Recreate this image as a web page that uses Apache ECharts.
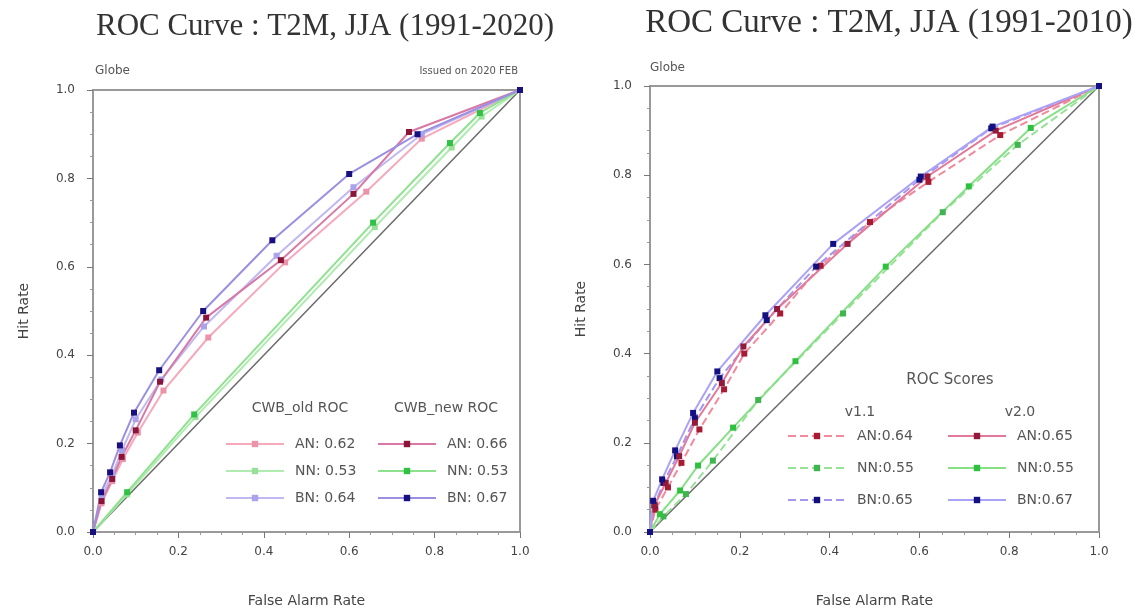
<!DOCTYPE html>
<html>
<head>
<meta charset="utf-8">
<title>ROC Curve : T2M, JJA</title>
<script src="https://cdn.jsdelivr.net/npm/echarts@6/dist/echarts.min.js"></script>
<style>
  html, body { margin: 0; padding: 0; background: #fff; }
  #chart { width: 1140px; height: 613px; }
</style>
</head>
<body>
<div id="chart"></div>
<script>
// axis ticks
var tickValues = [0, 0.2, 0.4, 0.6, 0.8, 1.0];

// left panel: CWB_old / CWB_new, points are [false alarm rate, hit rate]
var oldAN = [[0, 0], [0.02, 0.065], [0.045, 0.115], [0.07, 0.165], [0.105, 0.225], [0.165, 0.32], [0.27, 0.44], [0.45, 0.61], [0.64, 0.77], [0.77, 0.89], [1, 1]];
var oldNN = [[0, 0], [0.08, 0.085], [0.24, 0.26], [0.66, 0.69], [0.84, 0.87], [0.91, 0.94], [1, 1]];
var oldBN = [[0, 0], [0.02, 0.08], [0.045, 0.13], [0.068, 0.185], [0.1, 0.255], [0.16, 0.345], [0.26, 0.465], [0.43, 0.625], [0.61, 0.78], [0.77, 0.9], [1, 1]];
var newAN = [[0, 0], [0.02, 0.07], [0.045, 0.12], [0.067, 0.17], [0.1, 0.23], [0.157, 0.34], [0.265, 0.485], [0.44, 0.615], [0.61, 0.765], [0.74, 0.905], [1, 1]];
var newNN = [[0, 0], [0.08, 0.09], [0.237, 0.266], [0.656, 0.7], [0.836, 0.88], [0.906, 0.948], [1, 1]];
var newBN = [[0, 0], [0.019, 0.09], [0.04, 0.135], [0.063, 0.196], [0.096, 0.27], [0.155, 0.366], [0.258, 0.5], [0.42, 0.66], [0.6, 0.81], [0.76, 0.9], [1, 1]];

// right panel: v1.1 / v2.0
var v11AN = [[0, 0], [0.012, 0.05], [0.04, 0.1], [0.07, 0.155], [0.11, 0.23], [0.165, 0.32], [0.21, 0.4], [0.29, 0.49], [0.38, 0.597], [0.49, 0.695], [0.62, 0.785], [0.78, 0.89], [1, 1]];
var v11NN = [[0, 0], [0.03, 0.035], [0.08, 0.085], [0.14, 0.16], [0.241, 0.296], [0.43, 0.49], [0.652, 0.717], [0.819, 0.868], [1, 1]];
var v11BN = [[0, 0], [0.01, 0.06], [0.03, 0.11], [0.06, 0.17], [0.1, 0.255], [0.155, 0.345], [0.26, 0.475], [0.37, 0.595], [0.6, 0.79], [0.76, 0.905], [1, 1]];
var v20AN = [[0, 0], [0.01, 0.06], [0.035, 0.11], [0.065, 0.17], [0.1, 0.245], [0.16, 0.334], [0.208, 0.416], [0.283, 0.5], [0.44, 0.646], [0.618, 0.797], [0.77, 0.9], [1, 1]];
var v20NN = [[0, 0], [0.022, 0.04], [0.067, 0.093], [0.107, 0.149], [0.185, 0.234], [0.324, 0.383], [0.525, 0.595], [0.71, 0.775], [0.848, 0.906], [1, 1]];
var v20BN = [[0, 0], [0.007, 0.07], [0.027, 0.118], [0.056, 0.183], [0.096, 0.267], [0.15, 0.36], [0.257, 0.486], [0.408, 0.646], [0.603, 0.797], [0.763, 0.909], [1, 1]];

var diagonal = [[0, 0], [1, 1]];

// ROC scores shown in the legends
var scores = {
  "old AN": "AN: 0.62", "old NN": "NN: 0.53", "old BN": "BN: 0.64",
  "new AN": "AN: 0.66", "new NN": "NN: 0.53", "new BN": "BN: 0.67",
  "v1.1 AN": "AN:0.64", "v1.1 NN": "NN:0.55", "v1.1 BN": "BN:0.65",
  "v2.0 AN": "AN:0.65", "v2.0 NN": "NN:0.55", "v2.0 BN": "BN:0.67"
};

var chart = echarts.init(document.getElementById("chart"));

function axis(gridIndex, isX) {
  return {
    type: "value",
    gridIndex: gridIndex,
    min: 0,
    max: 1,
    interval: 0.2,
    name: isX ? "False Alarm Rate" : "Hit Rate",
    nameLocation: "middle",
    nameGap: 62,
    nameTextStyle: { color: "#444", fontSize: 14, fontFamily: "DejaVu Sans" },
    axisLine: { show: true, lineStyle: { color: "#999", width: 2 } },
    axisTick: { show: true, length: 6, lineStyle: { color: "#777" } },
    minorTick: { show: true, splitNumber: 4, length: 3, lineStyle: { color: "#999" } },
    splitLine: { show: false },
    axisLabel: {
      color: "#444",
      fontSize: 12,
      fontFamily: "DejaVu Sans",
      margin: isX ? 14 : 18,
      formatter: function (v) { return v.toFixed(1); }
    }
  };
}

function line(name, data, xi, lineColor, markColor, dashed) {
  return {
    name: name,
    type: "line",
    xAxisIndex: xi,
    yAxisIndex: xi,
    data: data,
    symbol: "rect",
    symbolSize: 6,
    showSymbol: true,
    animation: false,
    lineStyle: { color: lineColor, width: 2, type: dashed ? "dashed" : "solid" },
    itemStyle: { color: markColor, borderWidth: 0 }
  };
}

function refLine(xi) {
  return {
    name: "ref" + xi,
    type: "line",
    xAxisIndex: xi,
    yAxisIndex: xi,
    data: diagonal,
    symbol: "none",
    silent: true,
    animation: false,
    lineStyle: { color: "#6a6a6a", width: 1.5 },
    z: 1
  };
}

function legend(names, left, top, gap) {
  return {
    data: names,
    orient: "vertical",
    left: left,
    top: top,
    itemWidth: 58,
    itemHeight: 8,
    itemGap: gap,
    selectedMode: false,
    formatter: function (n) { return scores[n]; },
    textStyle: { color: "#555", fontSize: 14, fontFamily: "DejaVu Sans", padding: [0, 0, 0, 6] }
  };
}

function txt(x, y, s, size, align, family, color) {
  return {
    type: "text",
    x: x,
    y: y,
    style: {
      text: s,
      fontSize: size,
      fontFamily: family || "DejaVu Sans",
      fill: color || "#555",
      textAlign: align || "left",
      textVerticalAlign: "middle"
    }
  };
}

var option = {
  backgroundColor: "#fff",
  grid: [
    { left: 93, right: 620, top: 90, bottom: 80, show: true, borderColor: "#999", borderWidth: 2 },
    { left: 650, right: 41, top: 86, bottom: 78, show: true, borderColor: "#999", borderWidth: 2 }
  ],
  xAxis: [axis(0, true), axis(1, true)],
  yAxis: [axis(0, false), axis(1, false)],
  legend: [
    legend(["old AN", "old NN", "old BN"], 220, 432, 13),
    legend(["new AN", "new NN", "new BN"], 372, 432, 13),
    legend(["v1.1 AN", "v1.1 NN", "v1.1 BN"], 782, 424, 18),
    legend(["v2.0 AN", "v2.0 NN", "v2.0 BN"], 942, 424, 18)
  ],
  graphic: [
    txt(325, 27, "ROC Curve : T2M, JJA (1991-2020)", 31, "center", "Liberation Serif", "#333"),
    txt(889, 23, "ROC Curve : T2M, JJA (1991-2010)", 33, "center", "Liberation Serif", "#333"),
    txt(95, 71, "Globe", 12),
    txt(518, 71, "Issued on 2020 FEB", 10, "right"),
    txt(650, 68, "Globe", 12),
    txt(300, 408, "CWB_old ROC", 14, "center"),
    txt(446, 408, "CWB_new ROC", 14, "center"),
    txt(950, 380, "ROC Scores", 15, "center"),
    txt(860, 412, "v1.1", 14, "center"),
    txt(1020, 412, "v2.0", 14, "center")
  ],
  series: [
    refLine(0),
    line("old AN", oldAN, 0, "#f5a9bb", "#eb93a9"),
    line("old NN", oldNN, 0, "#b0ecb0", "#98e098"),
    line("old BN", oldBN, 0, "#c0b8f2", "#aaa2ea"),
    line("new AN", newAN, 0, "#d779a4", "#8b1538"),
    line("new NN", newNN, 0, "#8ee28e", "#2fc244"),
    line("new BN", newBN, 0, "#9b8fe2", "#17107e"),
    refLine(1),
    line("v1.1 AN", v11AN, 1, "#f08a9c", "#a81a32", true),
    line("v1.1 NN", v11NN, 1, "#98e298", "#3fb44f", true),
    line("v1.1 BN", v11BN, 1, "#a496ef", "#11107a", true),
    line("v2.0 AN", v20AN, 1, "#e3799a", "#921a3a"),
    line("v2.0 NN", v20NN, 1, "#86e086", "#30c040"),
    line("v2.0 BN", v20BN, 1, "#aaa2f6", "#121082")
  ]
};

chart.setOption(option);
</script>
</body>
</html>
